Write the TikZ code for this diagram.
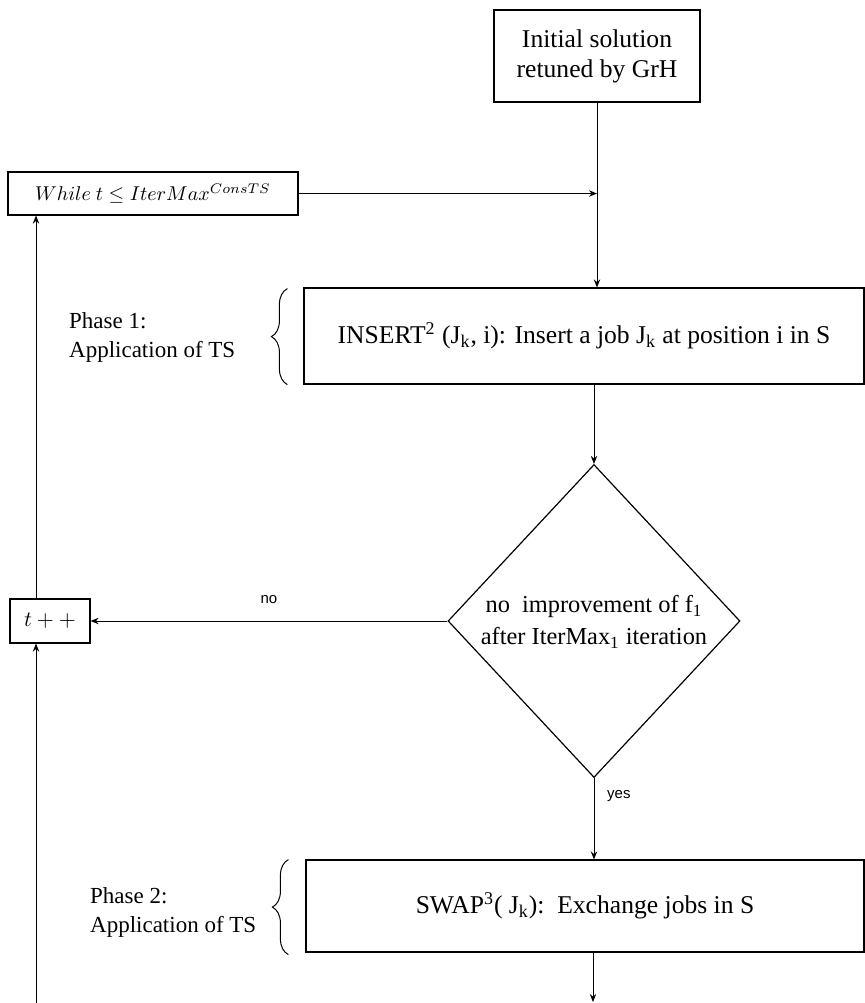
\documentclass[tikz,border=0pt]{standalone}
\usepackage{fontspec}
\setmainfont{Liberation Serif}
\newfontfamily\answerfont{Liberation Sans}
\usetikzlibrary{shapes.geometric,decorations.pathreplacing,arrows.meta}

\begin{document}
\begin{tikzpicture}[x=0.5pt,y=-0.5pt,
  >={Stealth[length=4pt,width=3.2pt]},
  box/.style={draw, line width=0.6pt, inner sep=0pt, align=center, font=\fontsize{12.8}{15}\selectfont},
  phase/.style={align=left, anchor=west, font=\fontsize{11.5}{14.5}\selectfont},
  brc/.style={draw, decorate, decoration={brace, amplitude=8pt}, line width=0.5pt},
  answer/.style={font=\answerfont\fontsize{7.5}{9}\selectfont},
  line width=0.5pt]
\useasboundingbox (0,0) rectangle (864,1003);

\node[box, minimum width=103pt, minimum height=46pt] (init) at (597,56) {Initial solution\\retuned by GrH};
\node[box, minimum width=145pt, minimum height=21.5pt, font=\fontsize{10}{12}\selectfont] (while) at (153,193.5) {$While\ t \leq IterMax^{ConsTS}$};
\node[box, minimum width=280pt, minimum height=48pt] (insert) at (584,336) {INSERT\textsuperscript{2} (J\textsubscript{k}, i): Insert a job J\textsubscript{k} at position i in S};
\node[draw, diamond, line width=0.6pt, inner sep=0pt, minimum width=146pt, minimum height=156.5pt] (check) at (594,621) {};
\node[align=center, font=\fontsize{12.2}{16}\selectfont] (checktext) at (594,622) {no\ \ improvement of f\textsubscript{1}\\after IterMax\textsubscript{1} iteration};
\node[box, minimum width=40pt, minimum height=22pt, font=\fontsize{10.5}{12}\selectfont] (tpp) at (50,621) {$t++$};
\node[box, minimum width=279pt, minimum height=46pt] (swap) at (585,906) {SWAP\textsuperscript{3}( J\textsubscript{k}):\ \ Exchange jobs in S};

\node[phase] (phase1) at (62,337) {Phase 1:\\Application of TS};
\node[phase] (phase2) at (83,912) {Phase 2:\\Application of TS};

\coordinate (join) at (init.south |- while.east);
\coordinate (loop) at (36,1003);
\coordinate (exit) at (593,1002);

% braces
\path[brc] (insert.south west) ++(-16,0) -- ++(0,-96);
\path[brc] (swap.south west) ++(-17,2) -- ++(0,-95);

\path[draw,->] (init.south) -- (init.south |- insert.north);
\path[draw,->] (while.east) -- (join);
\path[draw,->] (check.north |- insert.south) -- (check.north);
\path[draw,->] (check.west) -- node[answer, above=5pt] {no} (tpp.east);
\path[draw,->] (check.south) -- node[answer, right=3pt, pos=0.22] {yes} (check.south |- swap.north);
\path[draw,->] (tpp.north -| loop) -- (loop |- while.south);
\path[draw,->] (loop) -- (loop |- tpp.south);
\path[draw,->] (exit |- swap.south) -- (exit);
\end{tikzpicture}
\end{document}
